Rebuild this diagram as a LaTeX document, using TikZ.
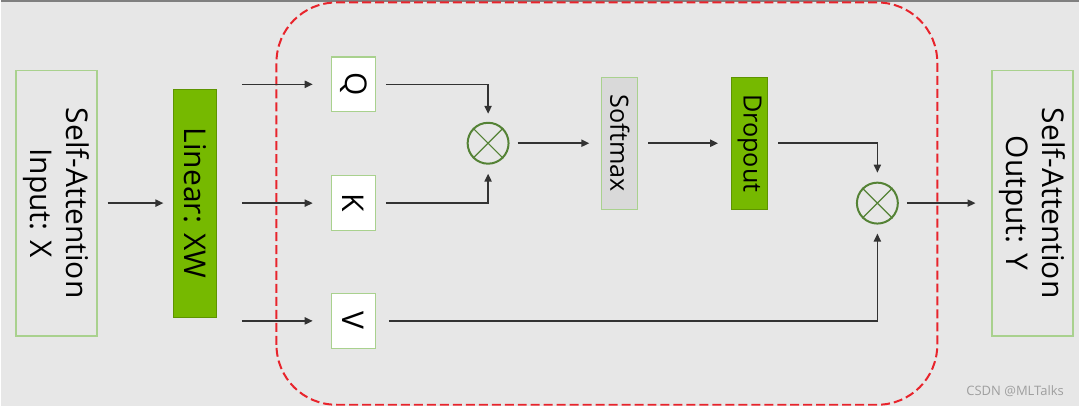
\documentclass[tikz,border=0pt]{standalone}
\usepackage{fontspec}
\setmainfont{Open Sans}
\usepackage{tikz}
\usetikzlibrary{arrows.meta}
\definecolor{bggray}{HTML}{E7E7E7}
\definecolor{nvgreen}{HTML}{76B900}
\definecolor{edgegreen}{HTML}{A9D18E}
\definecolor{mulgreen}{HTML}{548235}
\definecolor{softgray}{HTML}{D9D9D9}
\definecolor{dashred}{HTML}{E8242C}
\definecolor{wire}{HTML}{333333}
\newcommand{\boxfont}{\fontsize{15}{18}\selectfont}
\newcommand{\tagfont}{\fontsize{12.6}{15}\selectfont}

\tikzset{
  iobox/.style={draw=edgegreen,line width=0.7pt,rotate=-90,inner sep=0pt,
    minimum width=133pt,minimum height=40.5pt,align=center,font=\boxfont},
  linbox/.style={fill=nvgreen,draw=nvgreen!80!black,line width=0.3pt,rotate=-90,
    inner sep=0pt,minimum width=114pt,minimum height=21.5pt,font=\boxfont},
  qkvbox/.style={fill=white,draw=edgegreen,line width=0.7pt,rotate=-90,
    inner sep=0pt,minimum width=27.5pt,minimum height=22pt,font=\boxfont},
  opbox/.style={draw=edgegreen,line width=0.6pt,rotate=-90,inner sep=0pt,
    minimum width=66pt,minimum height=18pt,font=\tagfont},
  mulnode/.style={circle,draw=mulgreen,line width=1pt,minimum size=20.5pt,inner sep=0pt},
  conn/.style={draw=wire,line width=0.8pt,-{Triangle[length=4pt,width=3.6pt]},
    shorten <=5pt,shorten >=5pt},
}

\begin{document}
\begin{tikzpicture}[x=0.5pt,y=0.5pt]
  % canvas
  \fill[bggray] (0,0) rectangle (1080,406);
  \draw[gray,line width=1pt] (0,405.5) -- (1080,405.5);
  % attention block
  \draw[dashred,line width=1pt,dash pattern=on 4.5pt off 2pt,rounded corners=30pt]
    (276,1) rectangle (938,404);

  % blocks
  \node[iobox] (in) at (55.5,203) {Self-Attention\\Input: X};
  \node[linbox] (lin) at (194.5,203) {Linear: XW};
  \node[qkvbox] (q) at (353,322) {Q};
  \node[qkvbox] (k) at (353,203) {K};
  \node[qkvbox] (v) at (353,85) {V};
  \node[mulnode] (mul1) at (488,263) {};
  \node[opbox,fill=softgray] (soft) at (620,263) {Softmax};
  \node[opbox,fill=nvgreen,draw=nvgreen!80!black] (drop) at (750,263) {Dropout};
  \node[mulnode] (mul2) at (878,203) {};
  \node[iobox] (out) at (1033.5,203) {Self-Attention\\Output: Y};
  \foreach \m in {mul1,mul2}
    \draw[mulgreen,line width=0.6pt] (\m.north west) -- (\m.south east)
      (\m.north east) -- (\m.south west);

  % wires
  \draw[conn] (in) -- (lin);
  \foreach \t in {q,k,v}
    \draw[conn,shorten <=12.5pt,shorten >=9pt] (lin.north |- \t) -- (\t);
  \draw[conn,shorten >=4pt] (q) -| (mul1);
  \draw[conn,shorten >=4.5pt] (k) -| (mul1);
  \draw[conn,shorten <=4pt,shorten >=6pt] (mul1) -- (soft);
  \draw[conn,shorten >=6.5pt] (soft) -- (drop);
  \draw[conn,shorten >=4.5pt] (drop) -| (mul2);
  \draw[conn,shorten <=6.5pt,shorten >=4.5pt] (v) -| (mul2);
  \draw[conn,shorten <=4pt,shorten >=8pt] (mul2) -- (out);

  \node[text=gray!75,font=\fontsize{6.5}{8}\selectfont] (mark) at (1016,15) {CSDN @MLTalks};
\end{tikzpicture}
\end{document}
